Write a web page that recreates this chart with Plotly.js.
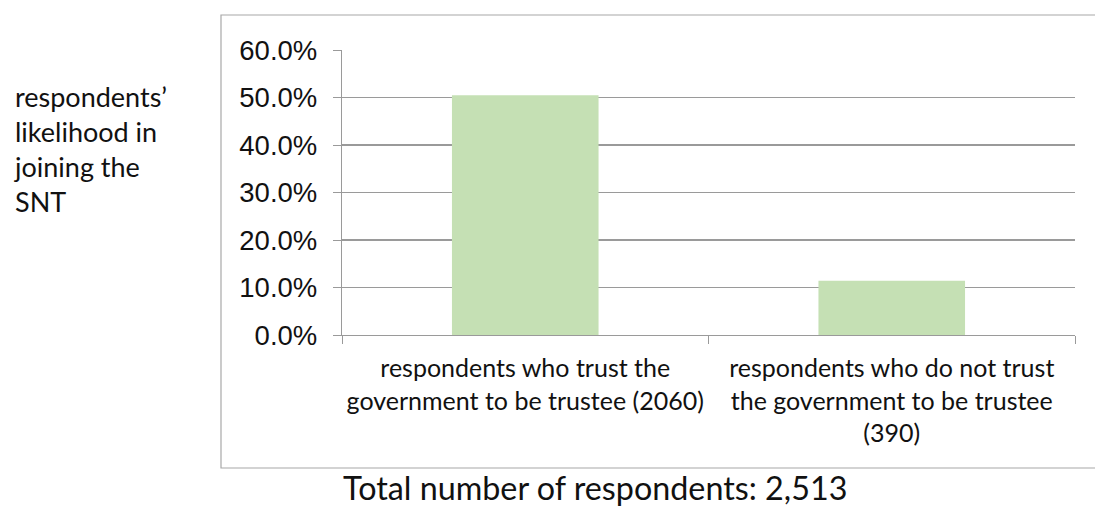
<!DOCTYPE html>
<html>
<head>
<meta charset="utf-8">
<script src="https://cdn.plot.ly/plotly-3.0.1.min.js"></script>
<style>html,body{margin:0;padding:0;background:#fff;overflow:hidden;}#chart{width:1095px;height:509px;}</style>
</head>
<body>
<div id="chart"></div>
<script>
const categories = [
  "respondents who trust the<br>government to be trustee (2060)",
  "respondents who do not trust<br>the government to be trustee<br>(390)"
];
const likelihood = [0.505, 0.114];
const yLabel = "respondents’<br>likelihood in<br>joining the<br>SNT";
const chartTitle = "Total number of respondents: 2,513";

const W = 1095, H = 509;
const L = 342, R = 1075, T = 50, B = 335;
const xp = px => (px - L) / (R - L);
const yp = py => (B - py) / (B - T);
const cal = "Lato, 'Open Sans', sans-serif";

const data = [{
  type: 'bar',
  x: categories,
  y: likelihood,
  width: 0.4,
  marker: {color: 'rgb(197,224,180)'},
  hoverinfo: 'none'
}];

const layout = {
  width: W, height: H,
  margin: {l: L, r: W - R, t: T, b: H - B, pad: 0},
  paper_bgcolor: '#fff', plot_bgcolor: '#fff',
  showlegend: false,
  xaxis: {
    type: 'category',
    showline: true, linecolor: '#9a9a9a', linewidth: 1.2,
    ticks: 'outside', tickson: 'boundaries', ticklen: 8, tickcolor: '#9a9a9a',
    ticklabelstandoff: 11,
    tickfont: {family: cal, size: 25, color: '#111'},
    showgrid: false, zeroline: false, fixedrange: true
  },
  yaxis: {
    range: [0, 0.6], dtick: 0.1, tickformat: '.1%',
    showline: true, linecolor: '#9a9a9a', linewidth: 1.2,
    ticks: 'outside', ticklen: 8, tickcolor: '#9a9a9a',
    ticklabelstandoff: 10,
    showgrid: true, gridcolor: '#9a9a9a', gridwidth: 1.2,
    zeroline: false,
    tickfont: {family: "'Liberation Sans', Arial, sans-serif", size: 27.5, color: '#111'},
    fixedrange: true
  },
  shapes: [{
    type: 'rect', xref: 'paper', yref: 'paper',
    x0: xp(221), x1: xp(1120), y0: yp(468), y1: yp(15),
    line: {color: '#a8a8a8', width: 1.2}, fillcolor: 'rgba(0,0,0,0)', layer: 'below'
  }],
  annotations: [
    {
      text: yLabel, xref: 'paper', yref: 'paper', x: xp(12), y: yp(78),
      xanchor: 'left', yanchor: 'top', align: 'left', showarrow: false,
      font: {family: cal, size: 27, color: '#111'}
    },
    {
      text: chartTitle, xref: 'paper', yref: 'paper', x: xp(595), y: yp(509),
      xanchor: 'center', yanchor: 'bottom', showarrow: false,
      font: {family: cal, size: 32.3, color: '#111'}
    }
  ]
};

Plotly.newPlot('chart', data, layout, {displayModeBar: false, staticPlot: true});
</script>
</body>
</html>
